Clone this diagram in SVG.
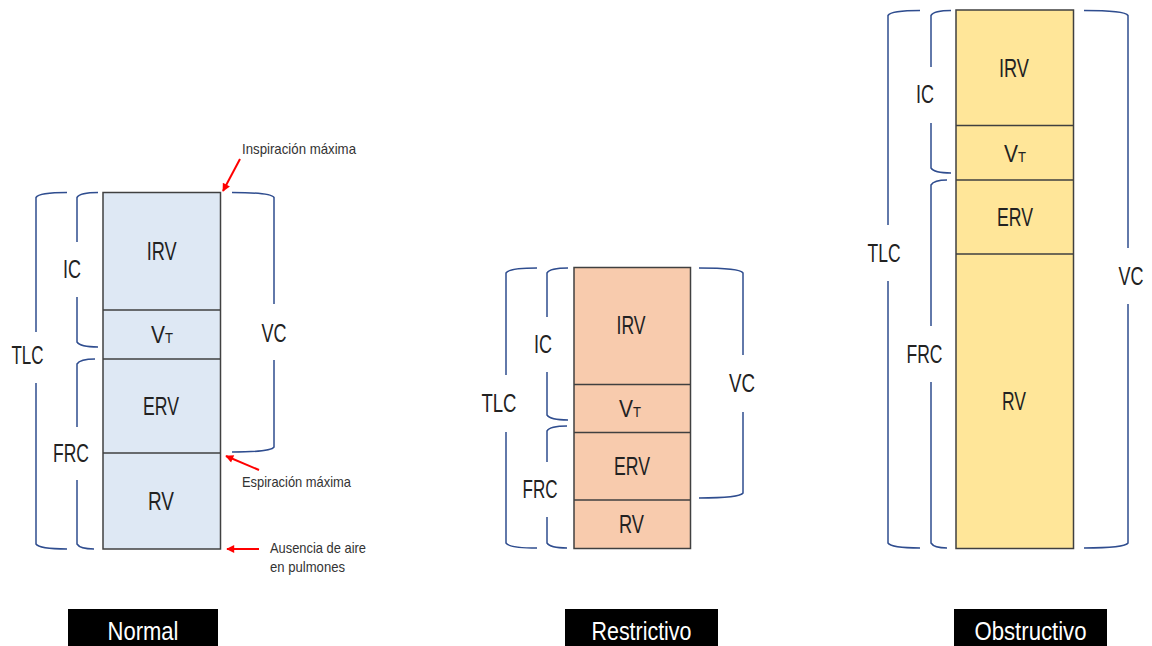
<svg xmlns="http://www.w3.org/2000/svg" width="1152" height="646" viewBox="0 0 1152 646">
<defs>
<style>
.bg{fill:#ffffff}
.box{stroke:#404040;stroke-width:1.5}
.n{fill:#DEE8F4}.r{fill:#F8CBAD}.o{fill:#FFE699}
.div{stroke:#404040;stroke-width:1.5;fill:none}
.br{fill:none;stroke:#2F4D8F;stroke-width:1.5}
.lbl{font-family:"Liberation Sans",Arial,sans-serif;font-size:25px;fill:#222;text-anchor:middle}
.vt{font-family:"Liberation Sans",Arial,sans-serif;font-size:24px;fill:#222}
.ann{font-family:"Liberation Sans",Arial,sans-serif;font-size:14.5px;fill:#333}
.cap{font-family:"Liberation Sans",Arial,sans-serif;font-size:25px;fill:#fff;text-anchor:middle}
.arr{stroke:#FF0000;stroke-width:2;fill:none}
</style>
<marker id="ah" viewBox="0 0 10 10" refX="9" refY="5" markerWidth="9" markerHeight="8" markerUnits="userSpaceOnUse" orient="auto">
<path d="M0,0 L10,5 L0,10 z" fill="#FF0000"/>
</marker>
</defs>
<rect class="bg" x="0" y="0" width="1152" height="646"/>

<g id="normal">
<rect class="box n" x="103" y="192.5" width="117.5" height="356.5"/>
<path class="div" d="M103,310 H220.5 M103,359 H220.5 M103,453 H220.5"/>
<path class="br" d="M67,192.5 Q39,192.5 36,197.5 L36,332 M36,383 L36,544 Q39,549 67,549"/>
<path class="br" d="M98,192.5 Q80,192.5 77,197.5 L77,242 M77,297 L77,342 Q80,347 98,347"/>
<path class="br" d="M95,359 Q80,359 77,364 L77,427 M77,480 L77,544 Q80,549 94,549"/>
<path class="br" d="M232,192.5 Q271,192.5 274,197.5 L274,304 M274,360 L274,447 Q271,452 232,452"/>
<text class="lbl" x="161.7" y="260" textLength="30" lengthAdjust="spacingAndGlyphs">IRV</text>
<text class="vt" x="151" y="343" textLength="22" lengthAdjust="spacingAndGlyphs">V<tspan font-size="15">T</tspan></text>
<text class="lbl" x="161" y="415" textLength="36" lengthAdjust="spacingAndGlyphs">ERV</text>
<text class="lbl" x="161" y="510" textLength="26" lengthAdjust="spacingAndGlyphs">RV</text>
<text class="lbl" x="72" y="278" textLength="18" lengthAdjust="spacingAndGlyphs">IC</text>
<text class="lbl" x="27.5" y="364" textLength="32" lengthAdjust="spacingAndGlyphs">TLC</text>
<text class="lbl" x="71" y="462" textLength="36" lengthAdjust="spacingAndGlyphs">FRC</text>
<text class="lbl" x="274" y="342" textLength="25" lengthAdjust="spacingAndGlyphs">VC</text>
<text class="ann" x="242" y="154" textLength="114" lengthAdjust="spacingAndGlyphs">Inspiración máxima</text>
<text class="ann" x="242" y="487" textLength="109" lengthAdjust="spacingAndGlyphs">Espiración máxima</text>
<text class="ann" x="270" y="553" textLength="96" lengthAdjust="spacingAndGlyphs">Ausencia de aire</text>
<text class="ann" x="270" y="572" textLength="75" lengthAdjust="spacingAndGlyphs">en pulmones</text>
</g>

<g id="restrictivo">
<rect class="box r" x="574" y="267.5" width="116.5" height="281"/>
<path class="div" d="M574,384.5 H690.5 M574,432.5 H690.5 M574,500 H690.5"/>
<path class="br" d="M537,268 Q509,268 506,273 L506,375 M506,432 L506,543 Q509,548 537,548"/>
<path class="br" d="M568,268 Q550,268 547,273 L547,317 M547,372 L547,415 Q550,420 568,420"/>
<path class="br" d="M567,426 Q550,426 547,431 L547,462 M547,517 L547,543 Q550,548 567,548"/>
<path class="br" d="M699,268 Q740,268 743,273 L743,355 M743,412 L743,493 Q740,498 699,498"/>
<text class="lbl" x="631" y="334" textLength="29" lengthAdjust="spacingAndGlyphs">IRV</text>
<text class="vt" x="619" y="417" textLength="22" lengthAdjust="spacingAndGlyphs">V<tspan font-size="15">T</tspan></text>
<text class="lbl" x="632" y="475" textLength="36" lengthAdjust="spacingAndGlyphs">ERV</text>
<text class="lbl" x="631.5" y="533" textLength="25" lengthAdjust="spacingAndGlyphs">RV</text>
<text class="lbl" x="543" y="353" textLength="18" lengthAdjust="spacingAndGlyphs">IC</text>
<text class="lbl" x="499" y="412" textLength="35" lengthAdjust="spacingAndGlyphs">TLC</text>
<text class="lbl" x="540" y="498" textLength="35" lengthAdjust="spacingAndGlyphs">FRC</text>
<text class="lbl" x="742" y="392" textLength="26" lengthAdjust="spacingAndGlyphs">VC</text>
</g>

<g id="obstructivo">
<rect class="box o" x="956" y="10" width="117.5" height="538.5"/>
<path class="div" d="M956,125.5 H1073.5 M956,180 H1073.5 M956,254 H1073.5"/>
<path class="br" d="M920,10.5 Q891,10.5 888,15.5 L888,225 M888,281 L888,543 Q891,548 920,548"/>
<path class="br" d="M951,10.5 Q934,10.5 931,15.5 L931,67 M931,123 L931,168 Q934,173 951,173"/>
<path class="br" d="M947,180 Q934,180 931,185 L931,326 M931,382 L931,543 Q934,548 947,548"/>
<path class="br" d="M1084,10.5 Q1125,10.5 1128,15.5 L1128,248 M1128,304 L1128,543 Q1125,548 1084,548"/>
<text class="lbl" x="1014" y="77" textLength="30" lengthAdjust="spacingAndGlyphs">IRV</text>
<text class="vt" x="1004" y="162" textLength="22" lengthAdjust="spacingAndGlyphs">V<tspan font-size="15">T</tspan></text>
<text class="lbl" x="1015" y="226" textLength="36" lengthAdjust="spacingAndGlyphs">ERV</text>
<text class="lbl" x="1014" y="410" textLength="24" lengthAdjust="spacingAndGlyphs">RV</text>
<text class="lbl" x="925" y="103" textLength="18" lengthAdjust="spacingAndGlyphs">IC</text>
<text class="lbl" x="884" y="262" textLength="33" lengthAdjust="spacingAndGlyphs">TLC</text>
<text class="lbl" x="924.5" y="363" textLength="36" lengthAdjust="spacingAndGlyphs">FRC</text>
<text class="lbl" x="1131" y="285" textLength="25" lengthAdjust="spacingAndGlyphs">VC</text>
</g>

<g id="captions">
<rect x="68" y="609" width="150" height="37" fill="#000"/>
<text class="cap" x="143" y="640" textLength="71" lengthAdjust="spacingAndGlyphs">Normal</text>
<rect x="565" y="609" width="153" height="37" fill="#000"/>
<text class="cap" x="641.5" y="640" textLength="100" lengthAdjust="spacingAndGlyphs">Restrictivo</text>
<rect x="954" y="609" width="153" height="37" fill="#000"/>
<text class="cap" x="1030.5" y="640" textLength="112" lengthAdjust="spacingAndGlyphs">Obstructivo</text>
</g>

<g id="connectors">
<line class="arr" x1="240" y1="159" x2="223" y2="191" marker-end="url(#ah)"/>
<line class="arr" x1="259" y1="470" x2="226" y2="456" marker-end="url(#ah)"/>
<line class="arr" x1="259" y1="549" x2="227" y2="549" marker-end="url(#ah)"/>
</g>
</svg>
